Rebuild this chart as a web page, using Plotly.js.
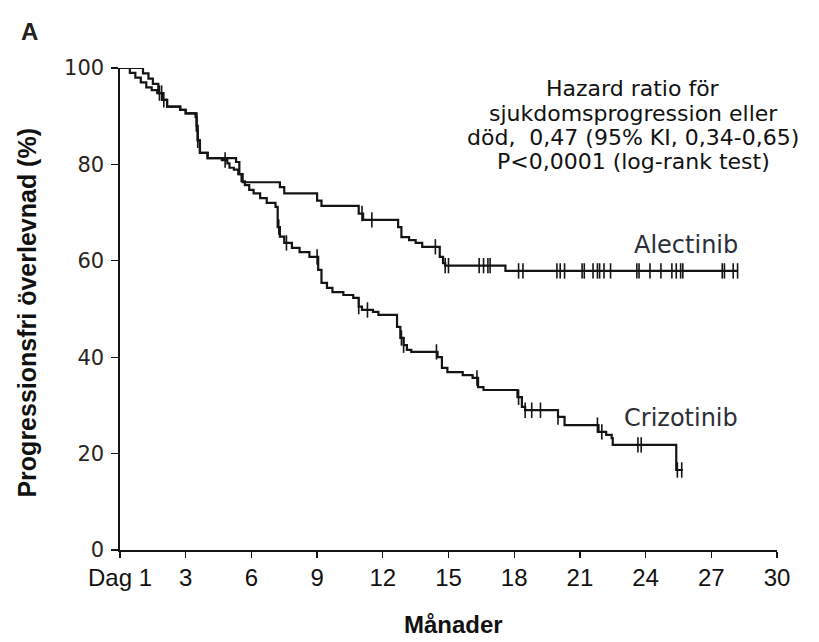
<!DOCTYPE html>
<html>
<head>
<meta charset="utf-8">
<script src="https://cdn.plot.ly/plotly-3.0.1.min.js"></script>
<style>html,body{margin:0;padding:0;background:#fff;}#chart{width:819px;height:642px;}</style>
</head>
<body>
<div id="chart"></div>
<script>
// Alectinib Kaplan-Meier steps (months, % progression-free)
const alecT = [0,1.05,1.3,1.5,1.75,1.95,2.15,2.75,3.0,3.45,3.5,3.55,3.65,4.0,4.65,4.9,5.0,5.2,5.4,5.6,7.3,7.5,9.0,9.2,10.9,11.1,12.7,12.85,13.2,13.5,13.8,14.6,14.75,14.85,17.6,28.2];
const alecS = [100,98.9,97.8,96.7,94.8,93.4,92.0,91.3,90.6,89.8,87.0,85.0,82.4,81.3,80.9,80.2,79.3,78.9,78.0,76.3,75.3,74.0,72.5,71.4,69.8,68.5,67.0,64.9,64.3,63.7,62.9,60.8,59.5,59.0,57.9,57.9];
const alecCens = [1.8,3.55,4.8,11.05,11.5,14.4,14.85,15.0,16.4,16.6,16.8,16.9,18.2,18.4,19.95,20.1,20.3,21.1,21.2,21.6,21.8,21.9,22.1,22.4,23.6,23.7,24.2,24.7,25.2,25.4,25.6,25.7,27.5,27.6,28.0,28.2];

// Crizotinib Kaplan-Meier steps
const crizT = [0,0.45,0.7,0.95,1.2,1.45,1.7,1.95,2.15,2.75,3.0,3.5,3.55,3.65,4.0,5.3,5.45,5.55,5.7,5.9,6.1,6.4,6.7,7.1,7.2,7.3,7.5,7.85,8.2,8.65,9.05,9.2,9.45,9.7,10.2,10.65,10.9,11.05,11.55,11.8,12.65,12.8,12.95,13.1,13.3,14.5,14.7,14.95,15.65,16.1,16.35,16.6,18.15,18.35,18.5,20.0,20.3,21.85,22.2,22.45,22.5,25.4,25.7];
const crizS = [100,99.0,98.0,97.0,96.0,95.4,94.8,93.4,92.0,91.3,90.6,88.0,85.0,82.4,81.3,80.5,78.0,76.5,75.7,74.7,74.0,73.0,72.0,71.2,67.0,65.0,63.7,62.7,61.8,60.8,58.1,55.4,54.4,53.5,52.9,52.3,50.5,49.8,49.4,48.8,46.3,44.0,42.5,41.5,41.1,40.0,37.8,36.9,36.3,35.7,33.8,33.2,31.7,29.7,29.0,27.6,25.9,24.5,23.9,23.2,21.8,16.6,16.6];
const crizCens = [1.9,2.0,7.25,7.6,9.0,10.9,11.3,12.85,12.95,14.45,16.3,18.2,18.5,18.8,19.2,20.0,21.8,22.0,23.65,23.8,25.45,25.65];

const tickVals = [0,3,6,9,12,15,18,21,24,27,30];
const tickText = ["Dag 1","3","6","9","12","15","18","21","24","27","30"];
const yTicks = [0,20,40,60,80,100];
const statLines = ["Hazard ratio för","sjukdomsprogression eller","död,  0,47 (95% KI, 0,34-0,65)","P<0,0001 (log-rank test)"];

function survAt(T, S, t) {
  let s = S[0];
  for (let i = 0; i < T.length; i++) { if (T[i] <= t) s = S[i]; }
  return s;
}

const lineStyle = {color:'#141414', width:2.2, shape:'hv'};
const censMarker = {symbol:'line-ns-open', size:11, color:'#141414', line:{width:1.6, color:'#141414'}};

const traces = [
  {x: alecT, y: alecS, mode:'lines', line: lineStyle, hoverinfo:'skip', name:'Alectinib'},
  {x: crizT, y: crizS, mode:'lines', line: lineStyle, hoverinfo:'skip', name:'Crizotinib'},
  {x: alecCens, y: alecCens.map(t => survAt(alecT, alecS, t)), mode:'markers', marker: censMarker, hoverinfo:'skip'},
  {x: crizCens, y: crizCens.map(t => survAt(crizT, crizS, t)), mode:'markers', marker: censMarker, hoverinfo:'skip'}
];

const statY = [0.9585, 0.9066, 0.8568, 0.805];
const annotations = statLines.map((s, i) => ({
  text: s, xref:'paper', yref:'paper', x:0.781, y:statY[i], xanchor:'center', yanchor:'middle',
  showarrow:false, font:{family:'DejaVu Sans, sans-serif', size:22, color:'#111'}
}));
annotations.push(
  {text:'<b>A</b>', xref:'paper', yref:'paper', x:-0.1385, y:1.0747, xanchor:'center', yanchor:'middle', showarrow:false, font:{family:'Liberation Sans, Arial, sans-serif', size:24, color:'#222'}},
  {text:'Alectinib', xref:'x', yref:'y', x:28.3, y:63.3, xanchor:'right', yanchor:'middle', showarrow:false, font:{family:'DejaVu Sans, sans-serif', size:24, color:'#2b2e36'}},
  {text:'Crizotinib', xref:'x', yref:'y', x:28.3, y:27.4, xanchor:'right', yanchor:'middle', showarrow:false, font:{family:'DejaVu Sans, sans-serif', size:24, color:'#2b2e36'}},
  {text:'<b>Månader</b>', xref:'paper', yref:'paper', x:0.507, y:-0.1556, xanchor:'center', yanchor:'middle', showarrow:false, font:{family:'Liberation Sans, Arial, sans-serif', size:24, color:'#111'}},
  {text:'<b>Progressionsfri överlevnad (%)</b>', xref:'paper', yref:'paper', x:-0.142, y:0.492, xanchor:'center', yanchor:'middle', textangle:-90, showarrow:false, font:{family:'Liberation Sans, Arial, sans-serif', size:25, color:'#111'}}
);

const layout = {
  width: 819, height: 642,
  margin: {l:120, r:42, t:68, b:92},
  paper_bgcolor:'#fff', plot_bgcolor:'#fff',
  showlegend: false,
  font: {family:'Liberation Sans, Arial, sans-serif', color:'#1a1a1a'},
  xaxis: {
    range:[0,30], tickvals: tickVals, ticktext: tickText,
    showline:true, linecolor:'#141414', linewidth:1.6,
    ticks:'outside', ticklen:6, tickwidth:1.4, tickcolor:'#141414',
    showgrid:false, zeroline:false,
    tickfont:{family:'Liberation Sans, Arial, sans-serif', size:24, color:'#111'}
  },
  yaxis: {
    range:[0,100], tickvals: yTicks,
    showline:true, linecolor:'#141414', linewidth:1.6,
    ticks:'outside', ticklen:7, tickwidth:1.4, tickcolor:'#141414',
    ticklabelstandoff: 3,
    showgrid:false, zeroline:false,
    tickfont:{family:'DejaVu Sans, sans-serif', size:21, color:'#2a2420'}
  },
  annotations: annotations
};

Plotly.newPlot('chart', traces, layout, {displayModeBar:false, staticPlot:true});
</script>
</body>
</html>
